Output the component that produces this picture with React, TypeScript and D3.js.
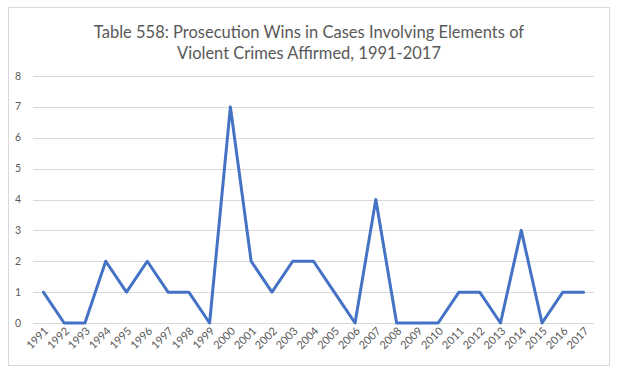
import React, { useEffect, useRef } from 'react';
import * as d3 from 'd3';

const years = [
  '1991', '1992', '1993', '1994', '1995', '1996', '1997', '1998', '1999', '2000',
  '2001', '2002', '2003', '2004', '2005', '2006', '2007', '2008', '2009', '2010',
  '2011', '2012', '2013', '2014', '2015', '2016', '2017',
];
const wins = [1, 0, 0, 2, 1, 2, 1, 1, 0, 7, 2, 1, 2, 2, 1, 0, 4, 0, 0, 0, 1, 1, 0, 3, 0, 1, 1];
const yTicks = [0, 1, 2, 3, 4, 5, 6, 7, 8];
const titleLines = [
  'Table 558: Prosecution Wins in Cases Involving Elements of',
  'Violent Crimes Affirmed, 1991-2017',
];

const App = () => {
  const ref = useRef<SVGSVGElement>(null);

  useEffect(() => {
    document.body.style.margin = '0';
    const width = 619;
    const height = 373;
    const plot = { left: 33, right: 594, top: 76, bottom: 323 };

    const svg = d3.select(ref.current);
    svg.selectAll('*').remove();

    svg.append('rect')
      .attr('width', width).attr('height', height).attr('fill', '#fff');

    // borde del gráfico
    svg.append('rect')
      .attr('x', 8.5).attr('y', 7.5)
      .attr('width', 601).attr('height', 358)
      .attr('fill', 'none').attr('stroke', '#d9d9d9');

    const x = d3.scaleBand().domain(years).range([plot.left, plot.right]);
    const y = d3.scaleLinear().domain([0, 8]).range([plot.bottom, plot.top]);

    // título
    svg.append('g')
      .selectAll('text')
      .data(titleLines)
      .join('text')
      .attr('x', 309)
      .attr('y', (d, i) => 38 + i * 21)
      .attr('text-anchor', 'middle')
      .style('font-family', 'Lato, "Open Sans", sans-serif')
      .style('font-size', '16.5px')
      .style('fill', '#595959')
      .text((d) => d);

    // rejilla
    svg.append('g')
      .selectAll('line')
      .data(yTicks)
      .join('line')
      .attr('x1', plot.left).attr('x2', plot.right)
      .attr('y1', (d) => Math.round(y(d)) + 0.5)
      .attr('y2', (d) => Math.round(y(d)) + 0.5)
      .attr('stroke', '#d9d9d9')
      .attr('stroke-width', 1);

    // etiquetas eje y
    svg.append('g')
      .selectAll('text')
      .data(yTicks)
      .join('text')
      .attr('x', 21)
      .attr('y', (d) => y(d) + 3.5)
      .attr('text-anchor', 'end')
      .style('font-family', 'Lato, "Open Sans", sans-serif')
      .style('font-size', '10.5px')
      .style('fill', '#595959')
      .text((d) => d);

    // etiquetas eje x
    svg.append('g')
      .selectAll('text')
      .data(years)
      .join('text')
      .attr('transform', (d) => `translate(${(x(d) as number) + x.bandwidth() / 2 + 3},${plot.bottom + 6}) rotate(-45)`)
      .attr('text-anchor', 'end')
      .attr('dy', '0.35em')
      .style('font-family', 'Lato, "Open Sans", sans-serif')
      .style('font-size', '11px')
      .style('fill', '#595959')
      .text((d) => d);

    const line = d3.line<number>()
      .x((d, i) => (x(years[i]) as number) + x.bandwidth() / 2)
      .y((d) => y(d));

    svg.append('path')
      .datum(wins)
      .attr('d', line)
      .attr('fill', 'none')
      .attr('stroke', '#4472c4')
      .attr('stroke-width', 3)
      .attr('stroke-linejoin', 'round')
      .attr('stroke-linecap', 'round');
  }, []);

  return <svg ref={ref} width={619} height={373} style={{ display: 'block' }} />;
};

export default App;
